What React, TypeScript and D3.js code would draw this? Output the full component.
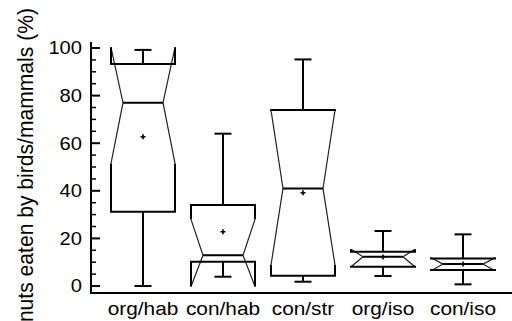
import React from "react";
import * as d3 from "d3";

const categories = ["org/hab", "con/hab", "con/str", "org/iso", "con/iso"];
const whiskerLow = [0, 3.9, 1.8, 4.2, 0.7];
const q1 = [31.2, 10.2, 4.3, 8.1, 6.7];
const median = [77, 12.9, 41, 12.3, 9.2];
const q3 = [93.3, 34, 73.9, 14.4, 11.6];
const whiskerHigh = [99.2, 64, 95.2, 23.1, 21.7];
const notchLow = [51.5, -0.2, 8.8, 8.1, 6.4];
const notchHigh = [100.3, 28, 73.9, 15.4, 11.9];
const means = [62.7, 22.8, 39.2, 12.2, 9.2];
const majorTicks = [0, 20, 40, 60, 80, 100];
const yLabel = "nuts eaten by birds/mammals (%)";

const W = 512;
const H = 321;
const FONT = "'Liberation Sans', Arial, Helvetica, sans-serif";

export default function App() {
  const y = d3.scaleLinear().domain([0, 100]).range([286, 48]);
  const x = d3.scalePoint<string>().domain(categories).range([143, 463]);
  const minorTicks = d3.range(0, 101, 5).filter((v) => v % 20 !== 0);
  const axisX = 91;
  const axisY = 293;
  const boxHalf = 32;
  const notchHalf = 20;
  const capHalf = 8.5;

  return (
    <svg
      width={W}
      height={H}
      style={{ position: "absolute", left: 0, top: 0, background: "#fff" }}
      fontFamily={FONT}
    >
      <rect x={0} y={0} width={W} height={H} fill="#fff" />
      {/* y label */}
      <text
        transform={`translate(33,8) scale(1.04,1) rotate(-90)`}
        textAnchor="end"
        fontSize={21.1}
        fill="#000"
      >
        {yLabel}
      </text>
      {/* axes */}
      <line x1={axisX} x2={axisX} y1={42} y2={axisY + 1} stroke="#000" strokeWidth={2} />
      <line x1={axisX - 1} x2={W} y1={axisY} y2={axisY} stroke="#000" strokeWidth={2} />
      {majorTicks.map((t) => (
        <g key={"M" + t}>
          <line x1={axisX} x2={axisX + 9} y1={y(t)} y2={y(t)} stroke="#000" strokeWidth={2} />
          <text
            transform={`translate(82,${y(t)}) scale(1.15,1)`}
            dy="0.36em"
            textAnchor="end"
            fontSize={17.5}
            fill="#000"
          >
            {t}
          </text>
        </g>
      ))}
      {minorTicks.map((t) => (
        <line key={"m" + t} x1={axisX} x2={axisX + 5} y1={y(t)} y2={y(t)} stroke="#000" strokeWidth={1.5} />
      ))}
      {/* boxes */}
      {categories.map((c, i) => {
        const cx = x(c) as number;
        const L = cx - boxHalf;
        const R = cx + boxHalf;
        const Lm = cx - notchHalf;
        const Rm = cx + notchHalf;
        const yq1 = y(q1[i]);
        const yq3 = y(q3[i]);
        const ym = y(median[i]);
        const ynl = y(notchLow[i]);
        const ynh = y(notchHigh[i]);
        const ym0 = y(means[i]);
        return (
          <g key={c}>
            {/* whiskers */}
            <line x1={cx} x2={cx} y1={yq3} y2={y(whiskerHigh[i])} stroke="#000" strokeWidth={2} />
            <line x1={cx} x2={cx} y1={yq1} y2={y(whiskerLow[i])} stroke="#000" strokeWidth={2} />
            <line x1={cx - capHalf} x2={cx + capHalf} y1={y(whiskerHigh[i])} y2={y(whiskerHigh[i])} stroke="#000" strokeWidth={2} />
            <line x1={cx - capHalf} x2={cx + capHalf} y1={y(whiskerLow[i])} y2={y(whiskerLow[i])} stroke="#000" strokeWidth={2} />
            {/* notch diagonals */}
            <path
              d={`M${L},${ynl}L${Lm},${ym}L${L},${ynh}M${R},${ynl}L${Rm},${ym}L${R},${ynh}`}
              fill="none"
              stroke="#222"
              strokeWidth={1.2}
            />
            {/* notch verticals */}
            <path
              d={`M${L},${yq1}L${L},${ynl}M${R},${yq1}L${R},${ynl}M${L},${yq3}L${L},${ynh}M${R},${yq3}L${R},${ynh}`}
              fill="none"
              stroke="#000"
              strokeWidth={2}
            />
            {/* quartile lines */}
            <line x1={L - 1} x2={R + 1} y1={yq1} y2={yq1} stroke="#000" strokeWidth={2} />
            <line x1={L - 1} x2={R + 1} y1={yq3} y2={yq3} stroke="#000" strokeWidth={2} />
            {/* median */}
            <line x1={Lm} x2={Rm} y1={ym} y2={ym} stroke="#000" strokeWidth={2} />
            {/* mean */}
            <path
              d={`M${cx - 2.5},${ym0}L${cx + 2.5},${ym0}M${cx},${ym0 - 2.5}L${cx},${ym0 + 2.5}`}
              stroke="#000"
              strokeWidth={1.6}
            />
            <text
              transform={`translate(${cx},315) scale(1.12,1)`}
              textAnchor="middle"
              fontSize={18.6}
              fill="#000"
            >
              {c}
            </text>
          </g>
        );
      })}
    </svg>
  );
}
